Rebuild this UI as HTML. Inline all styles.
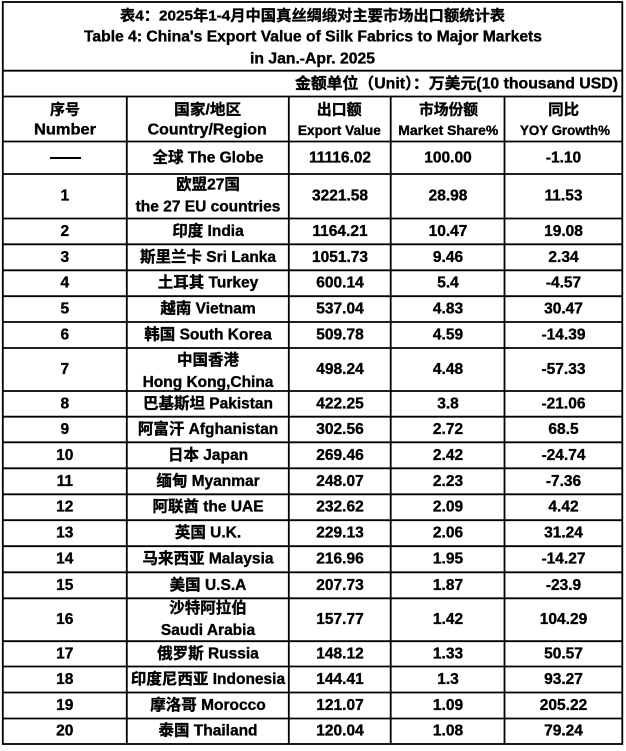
<!DOCTYPE html>
<html><head><meta charset="utf-8">
<style>
html,body{margin:0;padding:0;background:#fff;}
svg{display:block;}
text{font-family:"Liberation Sans","Noto Sans CJK SC",sans-serif;font-weight:bold;fill:#000;stroke:#000;stroke-width:0.35px;dominant-baseline:central;text-anchor:middle;}
.b{font-size:15.5px;}
.h2{font-size:14px;}
</style></head>
<body>
<svg width="626" height="751" viewBox="0 0 626 751" xmlns="http://www.w3.org/2000/svg">
<rect x="0" y="0" width="626" height="751" fill="#fff"/>
<g stroke="#000" stroke-width="1.8" fill="none">
<rect x="2.8" y="2" width="619.5" height="742"/>
<line x1="2" y1="70.7" x2="623" y2="70.7"/>
<line x1="2" y1="96.5" x2="623" y2="96.5"/>
<line x1="2" y1="141.5" x2="623" y2="141.5"/>
<line x1="2" y1="174" x2="623" y2="174"/>
<line x1="2" y1="218.5" x2="623" y2="218.5"/>
<line x1="2" y1="244.3" x2="623" y2="244.3"/>
<line x1="2" y1="270.3" x2="623" y2="270.3"/>
<line x1="2" y1="296.2" x2="623" y2="296.2"/>
<line x1="2" y1="322" x2="623" y2="322"/>
<line x1="2" y1="348" x2="623" y2="348"/>
<line x1="2" y1="391" x2="623" y2="391"/>
<line x1="2" y1="416.7" x2="623" y2="416.7"/>
<line x1="2" y1="442.3" x2="623" y2="442.3"/>
<line x1="2" y1="468.3" x2="623" y2="468.3"/>
<line x1="2" y1="494.3" x2="623" y2="494.3"/>
<line x1="2" y1="520.2" x2="623" y2="520.2"/>
<line x1="2" y1="546.2" x2="623" y2="546.2"/>
<line x1="2" y1="572.3" x2="623" y2="572.3"/>
<line x1="2" y1="598.3" x2="623" y2="598.3"/>
<line x1="2" y1="641.2" x2="623" y2="641.2"/>
<line x1="2" y1="666.5" x2="623" y2="666.5"/>
<line x1="2" y1="692.5" x2="623" y2="692.5"/>
<line x1="2" y1="718.5" x2="623" y2="718.5"/>
<line x1="126.8" y1="96.5" x2="126.8" y2="744"/>
<line x1="288.8" y1="96.5" x2="288.8" y2="744"/>
<line x1="390.7" y1="96.5" x2="390.7" y2="744"/>
<line x1="504.5" y1="96.5" x2="504.5" y2="744"/>
</g>

<text x="312.5" y="16" font-size="15" textLength="385" lengthAdjust="spacingAndGlyphs">表4：2025年1-4月中国真丝绸缎对主要市场出口额统计表</text>
<text x="313" y="37" font-size="15.5" textLength="458" lengthAdjust="spacingAndGlyphs">Table 4: China's Export Value of Silk Fabrics to Major Markets</text>
<text x="312.5" y="59" font-size="15.5" textLength="125" lengthAdjust="spacingAndGlyphs">in Jan.-Apr. 2025</text>

<text x="456.5" y="84" font-size="15.5" textLength="323" lengthAdjust="spacingAndGlyphs">金额单位（Unit）：万美元(10 thousand USD)</text>

<text x="65" y="110" font-size="15" textLength="30" lengthAdjust="spacingAndGlyphs">序号</text>
<text x="65" y="130" font-size="15.5" textLength="62" lengthAdjust="spacingAndGlyphs">Number</text>
<text x="207.7" y="110" font-size="15" textLength="67" lengthAdjust="spacingAndGlyphs">国家/地区</text>
<text x="207.2" y="130" font-size="15.5" textLength="119" lengthAdjust="spacingAndGlyphs">Country/Region</text>
<text x="339.2" y="110" font-size="15" textLength="45" lengthAdjust="spacingAndGlyphs">出口额</text>
<text x="339.4" y="130" class="h2" textLength="83" lengthAdjust="spacingAndGlyphs">Export Value</text>
<text x="448.5" y="110" font-size="15" textLength="59" lengthAdjust="spacingAndGlyphs">市场份额</text>
<text x="448.3" y="130" class="h2" textLength="100" lengthAdjust="spacingAndGlyphs">Market Share%</text>
<text x="563.7" y="110" font-size="15" textLength="31" lengthAdjust="spacingAndGlyphs">同比</text>
<text x="565" y="130" class="h2" textLength="90" lengthAdjust="spacingAndGlyphs">YOY Growth%</text>

<line x1="50" y1="158" x2="81" y2="158" stroke="#000" stroke-width="2"/>
<g class="b">
<text x="208" y="158">全球 The Globe</text>
<text x="340" y="158">11116.02</text>
<text x="448" y="158">100.00</text>
<text x="563.5" y="158">-1.10</text>
</g>

<g class="b">
<text x="64.8" y="196">1</text>
<text x="208" y="185">欧盟27国</text>
<text x="208" y="207">the 27 EU countries</text>
<text x="340" y="196">3221.58</text>
<text x="448" y="196">28.98</text>
<text x="563.5" y="196">11.53</text>

<text x="64.8" y="231.4">2</text>
<text x="208" y="231.4">印度 India</text>
<text x="340" y="231.4">1164.21</text>
<text x="448" y="231.4">10.47</text>
<text x="563.5" y="231.4">19.08</text>

<text x="64.8" y="257.3">3</text>
<text x="208" y="257.3">斯里兰卡 Sri Lanka</text>
<text x="340" y="257.3">1051.73</text>
<text x="448" y="257.3">9.46</text>
<text x="563.5" y="257.3">2.34</text>

<text x="64.8" y="283.2">4</text>
<text x="208" y="283.2">土耳其 Turkey</text>
<text x="340" y="283.2">600.14</text>
<text x="448" y="283.2">5.4</text>
<text x="563.5" y="283.2">-4.57</text>

<text x="64.8" y="309.1">5</text>
<text x="208" y="309.1">越南 Vietnam</text>
<text x="340" y="309.1">537.04</text>
<text x="448" y="309.1">4.83</text>
<text x="563.5" y="309.1">30.47</text>

<text x="64.8" y="335">6</text>
<text x="208" y="335">韩国 South Korea</text>
<text x="340" y="335">509.78</text>
<text x="448" y="335">4.59</text>
<text x="563.5" y="335">-14.39</text>

<text x="64.8" y="369.5">7</text>
<text x="208" y="360.7">中国香港</text>
<text x="208" y="382.3">Hong Kong,China</text>
<text x="340" y="369.5">498.24</text>
<text x="448" y="369.5">4.48</text>
<text x="563.5" y="369.5">-57.33</text>

<text x="64.8" y="403.8">8</text>
<text x="208" y="403.8">巴基斯坦 Pakistan</text>
<text x="340" y="403.8">422.25</text>
<text x="448" y="403.8">3.8</text>
<text x="563.5" y="403.8">-21.06</text>

<text x="64.8" y="429.5">9</text>
<text x="208" y="429.5">阿富汗 Afghanistan</text>
<text x="340" y="429.5">302.56</text>
<text x="448" y="429.5">2.72</text>
<text x="563.5" y="429.5">68.5</text>

<text x="64.8" y="455.3">10</text>
<text x="208" y="455.3">日本 Japan</text>
<text x="340" y="455.3">269.46</text>
<text x="448" y="455.3">2.42</text>
<text x="563.5" y="455.3">-24.74</text>

<text x="64.8" y="481.3">11</text>
<text x="208" y="481.3">缅甸 Myanmar</text>
<text x="340" y="481.3">248.07</text>
<text x="448" y="481.3">2.23</text>
<text x="563.5" y="481.3">-7.36</text>

<text x="64.8" y="507.2">12</text>
<text x="208" y="507.2">阿联酋 the UAE</text>
<text x="340" y="507.2">232.62</text>
<text x="448" y="507.2">2.09</text>
<text x="563.5" y="507.2">4.42</text>

<text x="64.8" y="533.2">13</text>
<text x="208" y="533.2">英国 U.K.</text>
<text x="340" y="533.2">229.13</text>
<text x="448" y="533.2">2.06</text>
<text x="563.5" y="533.2">31.24</text>

<text x="64.8" y="559.2">14</text>
<text x="208" y="559.2">马来西亚 Malaysia</text>
<text x="340" y="559.2">216.96</text>
<text x="448" y="559.2">1.95</text>
<text x="563.5" y="559.2">-14.27</text>

<text x="64.8" y="585.3">15</text>
<text x="208" y="585.3">美国 U.S.A</text>
<text x="340" y="585.3">207.73</text>
<text x="448" y="585.3">1.87</text>
<text x="563.5" y="585.3">-23.9</text>

<text x="64.8" y="619.7">16</text>
<text x="208" y="608.7">沙特阿拉伯</text>
<text x="208" y="630.5">Saudi Arabia</text>
<text x="340" y="619.7">157.77</text>
<text x="448" y="619.7">1.42</text>
<text x="563.5" y="619.7">104.29</text>

<text x="64.8" y="653.8">17</text>
<text x="208" y="653.8">俄罗斯 Russia</text>
<text x="340" y="653.8">148.12</text>
<text x="448" y="653.8">1.33</text>
<text x="563.5" y="653.8">50.57</text>

<text x="64.8" y="679.5">18</text>
<text x="208" y="679.5">印度尼西亚 Indonesia</text>
<text x="340" y="679.5">144.41</text>
<text x="448" y="679.5">1.3</text>
<text x="563.5" y="679.5">93.27</text>

<text x="64.8" y="705.5">19</text>
<text x="208" y="705.5">摩洛哥 Morocco</text>
<text x="340" y="705.5">121.07</text>
<text x="448" y="705.5">1.09</text>
<text x="563.5" y="705.5">205.22</text>

<text x="64.8" y="731.2">20</text>
<text x="208" y="731.2">泰国 Thailand</text>
<text x="340" y="731.2">120.04</text>
<text x="448" y="731.2">1.08</text>
<text x="563.5" y="731.2">79.24</text>
</g>
</svg>
</body></html>
